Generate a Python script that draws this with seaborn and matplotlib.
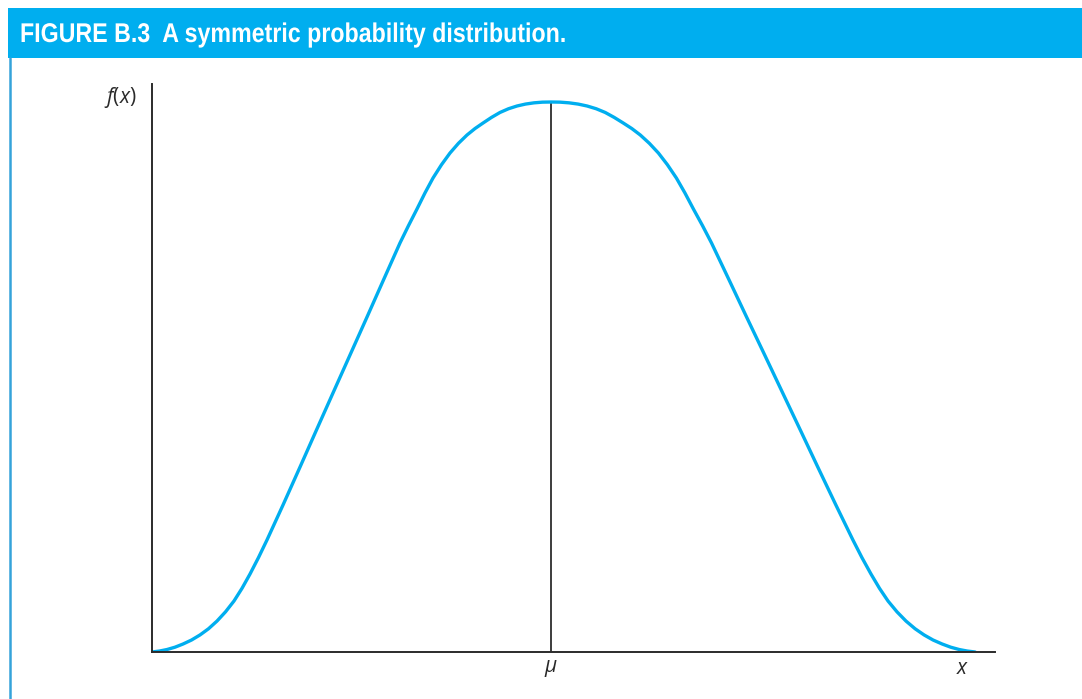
import numpy as np
import pandas as pd
import matplotlib
matplotlib.use("Agg")
import matplotlib.pyplot as plt
from matplotlib.patches import Rectangle
from matplotlib.lines import Line2D
from matplotlib.transforms import Affine2D
import matplotlib.patheffects as pe
import seaborn as sns

# Symmetric density: positions measured from the mean (mu = 0) and heights
x_vals = [-3.99, -3.915, -3.84, -3.76, -3.68, -3.595, -3.51, -3.425, -3.34,
          -3.255, -3.17, -3.09, -3.01, -2.925, -2.84, -2.68, -2.51, -2.35,
          -2.18, -2.01, -1.84, -1.68, -1.51, -1.425, -1.34, -1.26, -1.18,
          -1.095, -1.01, -0.925, -0.84, -0.76, -0.68, -0.595, -0.51, -0.425,
          -0.34, -0.255, -0.17, -0.085, 0.0,
          0.09, 0.181, 0.271, 0.361, 0.452, 0.542, 0.632, 0.723, 0.808,
          0.893, 0.983, 1.074, 1.164, 1.254, 1.339, 1.424, 1.515, 1.605,
          1.786, 1.956, 2.137, 2.317, 2.498, 2.668, 2.849, 3.019, 3.109,
          3.20, 3.285, 3.37, 3.46, 3.55, 3.641, 3.731, 3.821, 3.912, 3.997,
          4.082, 4.162, 4.241]
f_vals = [0.0000, 0.0007, 0.0018, 0.0035, 0.0058, 0.0087, 0.0124, 0.0169,
          0.0225, 0.0292, 0.0371, 0.0463, 0.0567, 0.0687, 0.0815, 0.1069,
          0.1345, 0.1607, 0.1884, 0.2160, 0.2436, 0.2698, 0.2975, 0.3101,
          0.3222, 0.3339, 0.3447, 0.3544, 0.3629, 0.3700, 0.3760, 0.3807,
          0.3847, 0.3888, 0.3924, 0.3951, 0.3971, 0.3985, 0.3994, 0.3999,
          0.4000,
          0.3999, 0.3994, 0.3985, 0.3971, 0.3951, 0.3924, 0.3888, 0.3847,
          0.3807, 0.3760, 0.3700, 0.3629, 0.3544, 0.3447, 0.3339, 0.3222,
          0.3101, 0.2975, 0.2698, 0.2436, 0.2160, 0.1884, 0.1607, 0.1345,
          0.1069, 0.0815, 0.0687, 0.0567, 0.0463, 0.0371, 0.0292, 0.0225,
          0.0169, 0.0124, 0.0087, 0.0058, 0.0035, 0.0018, 0.0007, 0.0000]

tick_pos = [0.0, 4.12]
tick_labels = [r"$\mu$", r"$x$"]
y_label = r"$f$($x$)"
title = "FIGURE B.3  A symmetric probability distribution."

df = pd.DataFrame({"x": x_vals, "f": f_vals})

sns.set_theme(style="white")
plt.rcParams["font.family"] = ["Open Sans", "DejaVu Sans"]
plt.rcParams["mathtext.fontset"] = "custom"
plt.rcParams["mathtext.it"] = "Open Sans:italic"
plt.rcParams["mathtext.rm"] = "Open Sans"


class Condense(pe.AbstractPathEffect):
    """Squeeze glyph outlines horizontally about a fixed left edge."""

    def __init__(self, sx, x0):
        super().__init__()
        self.sx = sx
        self.x0 = x0

    def draw_path(self, renderer, gc, tpath, affine, rgbFace=None):
        squeeze = Affine2D().translate(-self.x0, 0).scale(self.sx, 1.0)
        squeeze = squeeze.translate(self.x0, 0)
        renderer.draw_path(gc, tpath, affine + squeeze, rgbFace)


BLUE = "#00AEEF"
W, H = 1082, 699
fig = plt.figure(figsize=(W / 100, H / 100), dpi=100, facecolor="white")

# Header band with the figure caption
fig.patches.append(Rectangle((8 / W, 1 - 58 / H), (W - 8) / W, 50 / H,
                             transform=fig.transFigure, facecolor=BLUE,
                             edgecolor="none", zorder=0))
fig.lines.append(Line2D([9.5 / W, 9.5 / W], [0, 1 - 58 / H],
                        transform=fig.transFigure, color="#35a3da", lw=1.8))
title_txt = fig.text(20 / W, 1 - 35 / H, title, color="white", fontsize=19.5,
                     fontweight="bold",
                     family=["Liberation Sans", "DejaVu Sans"],
                     va="center", ha="left")

ax = fig.add_axes([152 / W, 1 - 652 / H, (995 - 152) / W, (652 - 84) / H])
ax.set_facecolor("white")

sns.lineplot(data=df, x="x", y="f", ax=ax, color=BLUE, linewidth=2.4,
             sort=False, estimator=None)
for ln in ax.lines:
    ln.set_solid_joinstyle("round")
    ln.set_solid_capstyle("round")

peak = max(f_vals)
ax.vlines(0.0, 0, peak, color="#3c3c3c", linewidth=1.4, zorder=1)

ax.set_xlim(-3.99, 4.44)
ax.set_ylim(0, 0.4131)
ax.set_xticks(tick_pos)
ax.set_xticklabels(tick_labels, fontsize=15, color="#2a2a2a")
ax.set_yticks([])
ax.tick_params(axis="x", length=0, pad=4)
ax.set_xlabel("")
ax.set_ylabel("")

for side in ("top", "right"):
    ax.spines[side].set_visible(False)
for side in ("left", "bottom"):
    ax.spines[side].set_color("#2b2b2b")
    ax.spines[side].set_linewidth(1.4)

fig.text(120 / W, 1 - 97 / H, y_label, fontsize=15, color="#2a2a2a",
         ha="center", va="center")

# Narrow the caption to the condensed width of the header lettering
fig.canvas.draw()
bb = title_txt.get_window_extent(renderer=fig.canvas.get_renderer())
title_txt.set_path_effects([Condense((567 - 20) / bb.width, bb.x0)])

fig.savefig("out.png", dpi=100, facecolor="white")
